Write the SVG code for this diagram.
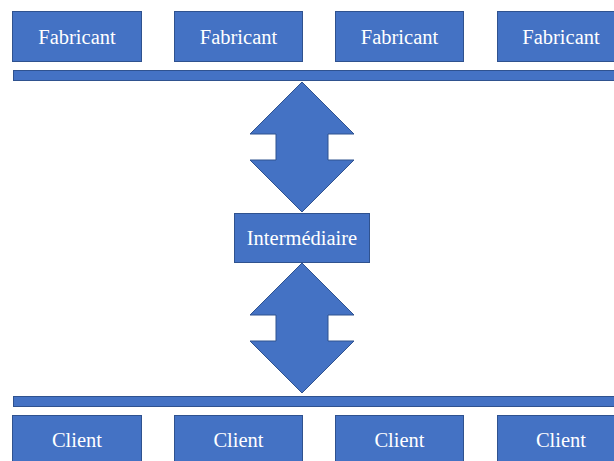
<svg xmlns="http://www.w3.org/2000/svg" width="614" height="461" viewBox="0 0 614 461">
<style>
.b{fill:#4472C4;stroke:#2F528F;stroke-width:1}
.t{fill:#fff;font-family:'Liberation Serif',serif;font-size:20.5px;text-anchor:middle}
</style>
<rect width="614" height="461" fill="#fff"/>
<g id="fab1"><rect class="b" x="12.5" y="11.5" width="129" height="50"/><text class="t" x="77" y="44">Fabricant</text></g>
<g id="fab2"><rect class="b" x="174.5" y="11.5" width="128" height="50"/><text class="t" x="238.5" y="44">Fabricant</text></g>
<g id="fab3"><rect class="b" x="335.5" y="11.5" width="128" height="50"/><text class="t" x="399.5" y="44">Fabricant</text></g>
<g id="fab4"><rect class="b" x="497.5" y="11.5" width="128" height="50"/><text class="t" x="561" y="44">Fabricant</text></g>
<g id="barTop"><rect class="b" x="13.5" y="70.5" width="610" height="10"/></g>
<g id="inter"><rect class="b" x="234.5" y="213.5" width="135" height="49"/><text class="t" x="302" y="245">Intermédiaire</text></g>
<g id="barBottom"><rect class="b" x="13.5" y="396.5" width="610" height="10"/></g>
<g id="cli1"><rect class="b" x="12.5" y="415.5" width="129" height="50"/><text class="t" x="77" y="447">Client</text></g>
<g id="cli2"><rect class="b" x="174.5" y="415.5" width="128" height="50"/><text class="t" x="238.5" y="447">Client</text></g>
<g id="cli3"><rect class="b" x="335.5" y="415.5" width="128" height="50"/><text class="t" x="399.5" y="447">Client</text></g>
<g id="cli4"><rect class="b" x="497.5" y="415.5" width="128" height="50"/><text class="t" x="561" y="447">Client</text></g>
<g id="connectors">
<polygon class="b" points="302,82 354,134 328,134 328,160 354,160 302,212 250,160 276,160 276,134 250,134"/>
<polygon class="b" points="302,263 354,315 328,315 328,341 354,341 302,393 250,341 276,341 276,315 250,315"/>
</g>
</svg>
